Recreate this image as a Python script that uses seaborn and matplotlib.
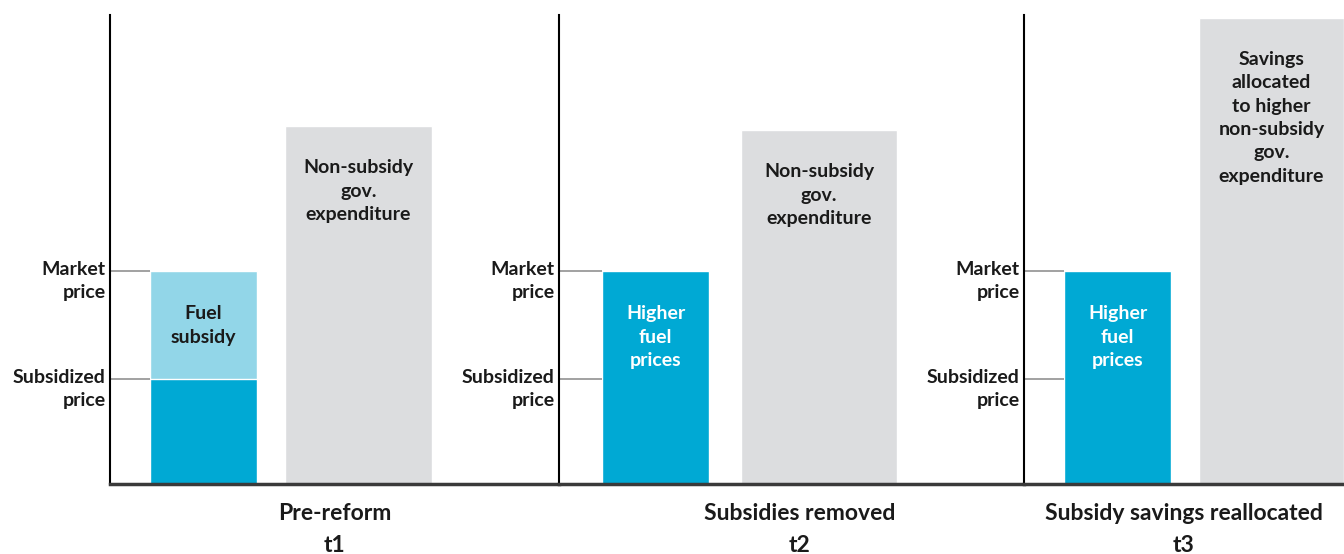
import matplotlib
matplotlib.use('Agg')
import matplotlib.pyplot as plt
from matplotlib import font_manager
import seaborn as sns

# values, on a 0-100 index scale
periods = ['Pre-reform', 'Subsidies removed', 'Subsidy savings reallocated']
period_codes = ['t1', 't2', 't3']
market_price = 45.4
subsidized_price = 22.4
non_subsidy_spend = [76.3, 75.5, 99.4]
fuel_labels = ['Fuel\nsubsidy', 'Higher\nfuel\nprices', 'Higher\nfuel\nprices']
spend_labels = ['Non-subsidy\ngov.\nexpenditure',
                'Non-subsidy\ngov.\nexpenditure',
                'Savings\nallocated\nto higher\nnon-subsidy\ngov.\nexpenditure']
price_labels = ['Market\nprice', 'Subsidized\nprice']

sns.set_theme(style='white')
plt.rcParams['font.family'] = ['Lato', 'DejaVu Sans']

# use the Lato Bold file directly (weight lookup picked a lighter face)
bold_file = [f.fname for f in font_manager.fontManager.ttflist
             if f.fname.endswith('Lato-Bold.ttf')]
if bold_file:
    fp = lambda size: font_manager.FontProperties(fname=bold_file[0], size=size)
else:
    fp = lambda size: font_manager.FontProperties(family='Lato', weight='bold', size=size)

DARK = '#00a9d4'
LIGHT = '#92d6e8'
GREY = '#dcdddf'
INK = '#1a1a1a'

W, H = 1344, 554
# panel layout in pixels: axis left, axis width, fuel bar centre, spend bar centre, spend bar width
panels = [(110, 449, 93.5, 248.5, 147),
          (559, 465, 96.5, 260.0, 156),
          (1024, 320, 93.5, 247.5, 145)]
fuel_w = 107
bottom_px, height_px = 70, 469

fig = plt.figure(figsize=(W / 100, H / 100), dpi=100)

for i, (left, width, fx, sx, sw) in enumerate(panels):
    ax = fig.add_axes([left / W, bottom_px / H, width / W, height_px / H])

    # fuel bar: light part up to market price, dark part up to subsidized price in t1
    if i == 0:
        sns.barplot(x=[fx], y=[market_price], native_scale=True, width=fuel_w,
                    color=LIGHT, saturation=1, errorbar=None, ax=ax)
        sns.barplot(x=[fx], y=[subsidized_price], native_scale=True, width=fuel_w,
                    color=DARK, saturation=1, errorbar=None, ax=ax)
    else:
        sns.barplot(x=[fx], y=[market_price], native_scale=True, width=fuel_w,
                    color=DARK, saturation=1, errorbar=None, ax=ax)
    sns.barplot(x=[sx], y=[non_subsidy_spend[i]], native_scale=True, width=sw,
                color=GREY, saturation=1, errorbar=None, ax=ax)

    ax.set_xlim(0, width)
    ax.set_ylim(0, 100)
    ax.set_xticks([])
    ax.set_yticks([])
    ax.set_xlabel('')
    ax.set_ylabel('')
    for s in ['top', 'right']:
        ax.spines[s].set_visible(False)
    ax.spines['left'].set_color('black')
    ax.spines['left'].set_linewidth(1.5)
    ax.spines['bottom'].set_color('#3a3a3a')
    ax.spines['bottom'].set_linewidth(2.5)

    # price guides and labels
    for lvl, lab in zip([market_price, subsidized_price], price_labels):
        ax.hlines(lvl, 0, fx - fuel_w / 2, color='#9a9a9a', lw=1.3)
        ax.annotate(lab, xy=(0, lvl), xytext=(-3, 7.5), textcoords='offset points',
                    ha='right', va='top', fontproperties=fp(14), color=INK,
                    linespacing=1.45, annotation_clip=False)

    ax.annotate(fuel_labels[i], xy=(fx, market_price), xytext=(0, -24.7),
                textcoords='offset points', ha='center', va='top',
                fontproperties=fp(14), linespacing=1.45,
                color=INK if i == 0 else 'white')
    ax.annotate(spend_labels[i], xy=(sx, non_subsidy_spend[i]), xytext=(0, -24),
                textcoords='offset points', ha='center', va='top',
                fontproperties=fp(14), linespacing=1.45, color=INK)

    ax.text(0.5 if i != 1 else 0.518, -0.04, periods[i] + '\n' + period_codes[i],
            transform=ax.transAxes, ha='center', va='top',
            fontproperties=fp(16.5), linespacing=1.64, color=INK)

fig.savefig('out.png', dpi=100)
